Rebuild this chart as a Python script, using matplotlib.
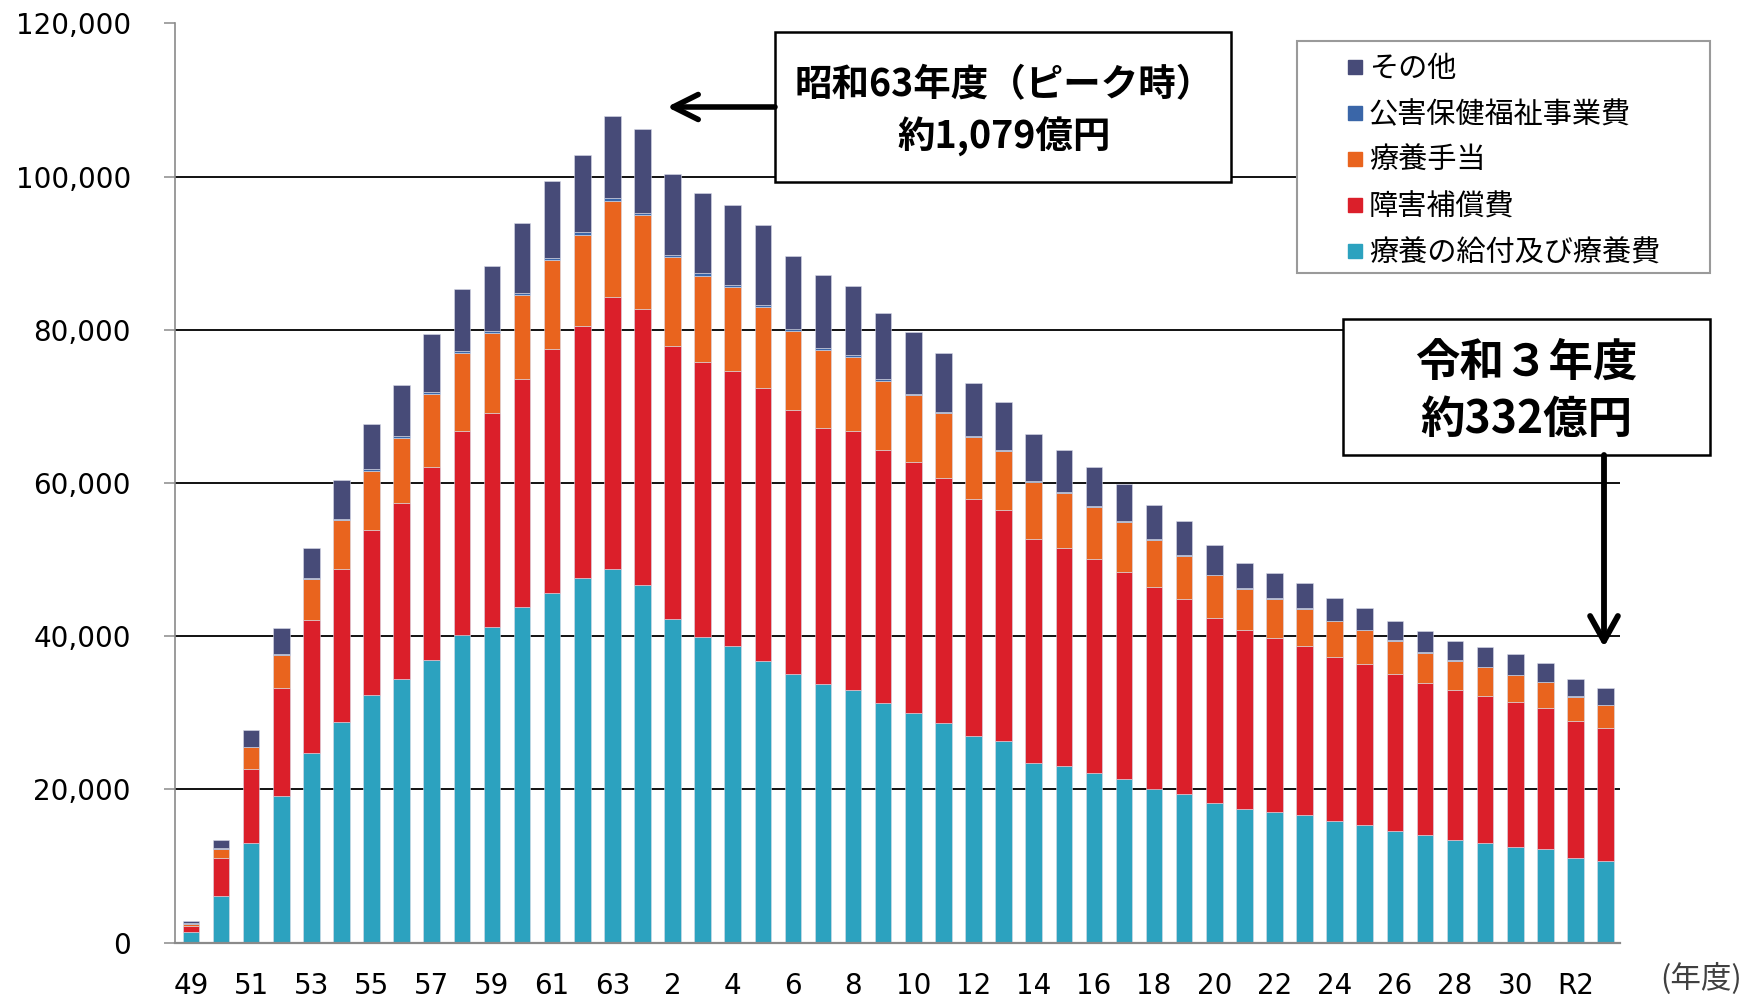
import numpy as np
import matplotlib
matplotlib.use("Agg")
import matplotlib.pyplot as plt
from matplotlib.patches import Rectangle
from matplotlib.lines import Line2D
from matplotlib.ticker import FuncFormatter

plt.rcParams['font.family'] = ['DejaVu Sans', 'Noto Sans CJK JP']
JP = ['Noto Sans CJK JP', 'DejaVu Sans']

# 年度 (昭和49 ~ 平成30, 令和1 ~ 3)
years = [str(y) for y in range(49, 64)] + [str(y) for y in range(1, 31)] + ["R1", "R2", "R3"]

# 補償給付 (百万円)
kyufu = [1420, 6050, 13050, 19100, 24760, 28860, 32340, 34430, 36870, 40130,
         41220, 43830, 45620, 47620, 48760, 46710, 42270, 39920, 38780, 36780,
         35080, 33770, 33030, 31290, 29980, 28680, 26980, 26330, 23500, 23020,
         22190, 21370, 20060, 19340, 18190, 17410, 17010, 16670, 15840, 15360,
         14540, 14010, 13400, 12970, 12440, 12180, 11010, 10700]
shogai = [790, 5040, 9670, 14200, 17380, 19900, 21510, 22900, 25280, 26730,
          27900, 29740, 31870, 32840, 35540, 36060, 35570, 35830, 35890, 35630,
          34400, 33440, 33790, 32970, 32710, 31920, 30970, 30120, 29260, 28560,
          27950, 27080, 26340, 25470, 24170, 23360, 22820, 22120, 21510, 21070,
          20590, 19940, 19520, 19280, 18990, 18390, 17980, 17370]
teate = [260, 1140, 2790, 4270, 5270, 6400, 7750, 8530, 9450, 10070,
         10420, 10940, 11590, 11970, 12580, 12240, 11680, 11330, 10970, 10580,
         10370, 10200, 9640, 9120, 8750, 8520, 8050, 7710, 7350, 7110,
         6720, 6400, 6140, 5730, 5570, 5380, 5010, 4810, 4600, 4340,
         4230, 3920, 3880, 3710, 3490, 3410, 3110, 2910]
kogai = [50, 60, 80, 150, 180, 200, 220, 240, 250, 260,
         300, 300, 330, 330, 330, 300, 300, 280, 280, 270,
         250, 250, 240, 230, 220, 200, 200, 190, 170, 160,
         150, 140, 130, 120, 110, 100, 100, 100, 90, 90,
         90, 90, 80, 80, 80, 80, 70, 70]
sonota = [300, 1150, 2180, 3330, 3910, 4980, 5880, 6730, 7650, 8100,
          8540, 9150, 9990, 10040, 10730, 10930, 10540, 10520, 10390, 10440,
          9590, 9460, 8980, 8570, 8120, 7650, 6840, 6230, 6070, 5520,
          5090, 4830, 4400, 4320, 3810, 3340, 3340, 3210, 2910, 2810,
          2550, 2660, 2560, 2500, 2660, 2500, 2300, 2210]

series = [kyufu, shogai, teate, kogai, sonota]
names = ["療養の給付及び療養費", "障害補償費", "療養手当", "公害保健福祉事業費", "その他"]
colors = ["#2ca2bf", "#db1f2a", "#e9641e", "#3a66a8", "#474b78"]

fig = plt.figure(figsize=(17.58, 10.01), dpi=100)
ax = fig.add_axes([175/1758, 1-942.6/1001, 1445/1758, 919.1/1001])

x = np.arange(len(years))
bottom = np.zeros(len(years))
for vals, name, c in zip(series, names, colors):
    ax.bar(x, vals, 0.55, bottom=bottom, color=c, label=name,
           edgecolor='#d8dbe8', linewidth=0.4, zorder=2)
    bottom += np.array(vals)

ax.set_xlim(-0.53, 47.48)
ax.set_ylim(0, 120000)
ax.set_yticks(np.arange(0, 120001, 20000))
ax.yaxis.set_major_formatter(FuncFormatter(lambda v, p: f"{v:,.0f}"))
ax.set_xticks(x[::2])
ax.set_xticklabels(years[::2])
ax.yaxis.grid(True, color='#111111', linewidth=1.4, zorder=0)
ax.set_axisbelow(True)
for s in ['top', 'right']:
    ax.spines[s].set_visible(False)
ax.spines['left'].set_color('#8a8a8a')
ax.spines['left'].set_linewidth(1.2)
ax.spines['bottom'].set_color('#8a8a8a')
ax.spines['bottom'].set_linewidth(1.6)
ax.tick_params(axis='y', length=7.7, width=1.1, color='#8a8a8a', pad=24, labelsize=20)
ax.tick_params(axis='x', length=0, pad=21, labelsize=20)

# overlay in pixel coordinates for boxes, arrows, legend frame
ov = fig.add_axes([0, 0, 1, 1], zorder=5)
ov.set_xlim(0, 1758)
ov.set_ylim(1001, 0)
ov.axis('off')
ov.patch.set_alpha(0)

ov.add_patch(Rectangle((775, 31.7), 456, 150.3, facecolor='white', edgecolor='black', linewidth=1.8))
ov.text(1004, 85, "昭和63年度（ピーク時）", family=JP, fontsize=27, fontweight='bold', ha='center', va='center')
ov.text(1004, 137, "約1,079億円", family=JP, fontsize=27, fontweight='bold', ha='center', va='center')
ov.annotate('', xy=(667, 107), xytext=(775, 107),
            arrowprops=dict(arrowstyle='->,head_length=0.9,head_width=0.45', lw=4,
                            color='black', mutation_scale=20, shrinkA=0, shrinkB=0))

ov.add_patch(Rectangle((1343, 319), 367, 136, facecolor='white', edgecolor='black', linewidth=1.8))
ov.text(1526, 363, "令和３年度", family=JP, fontsize=32, fontweight='bold', ha='center', va='center')
ov.text(1526, 420, "約332億円", family=JP, fontsize=32, fontweight='bold', ha='center', va='center')
ov.annotate('', xy=(1604, 647), xytext=(1604, 455),
            arrowprops=dict(arrowstyle='->,head_length=0.9,head_width=0.5', lw=4.2,
                            color='black', mutation_scale=20, shrinkA=0, shrinkB=0))

ov.add_patch(Rectangle((1297, 40.7), 413, 232.3, facecolor='white', edgecolor='#9a9a9a', linewidth=1.5))
handles = [Line2D([], [], linestyle='none', marker='s', markersize=9.5,
                  markerfacecolor=c, markeredgecolor=c) for c in colors[::-1]]
leg = ov.legend(handles, names[::-1], loc='upper left', bbox_to_anchor=(1347.7/1758, 1-54/1001),
                bbox_transform=fig.transFigure, frameon=False, borderpad=0, borderaxespad=0,
                handlelength=0.5, handletextpad=0.23, labelspacing=0.55,
                prop={'family': JP, 'size': 21})

ov.text(1701, 979, "(年度)", family=JP, fontsize=22, color='#404040', ha='center', va='center')

fig.savefig("out.png", dpi=100)
